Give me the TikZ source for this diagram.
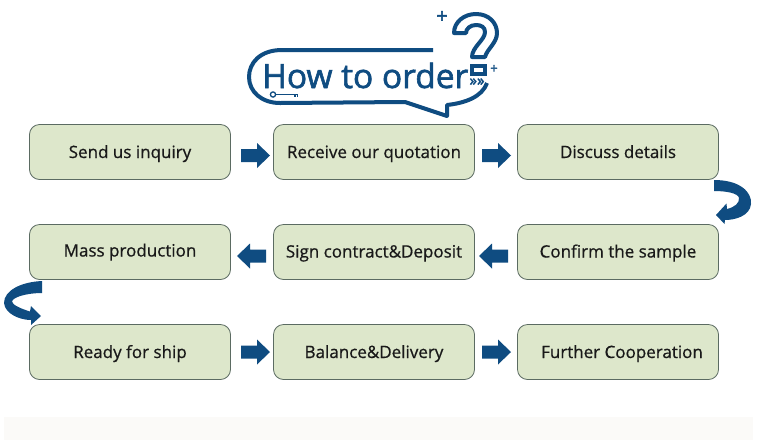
\documentclass[tikz,border=0pt]{standalone}
\usepackage{fontspec}
\setmainfont{Open Sans}
\newfontfamily\labelfont[FakeBold=0.7]{Open Sans}
\newfontfamily\titlefont[FakeBold=1.8]{Open Sans}
\newfontfamily\signfont[FakeBold=2.5]{Open Sans}
\definecolor{boxfill}{HTML}{DDE7CB}
\definecolor{boxline}{HTML}{5B6B62}
\definecolor{navy}{HTML}{0F4C81}
\definecolor{band}{HTML}{FBFAF8}
\tikzset{
 stepbox/.style={draw=boxline,line width=0.8pt,fill=boxfill,rounded corners=10pt,minimum width=201pt,minimum height=55pt,inner sep=0pt,text=black!90,text height=16pt,text depth=4pt,font=\labelfont\fontsize{17}{20}\selectfont},
 blockarrow/.style={fill=navy,draw=none},
 logoline/.style={draw=navy,line width=4pt,line join=round},
 thin logo/.style={draw=navy,line width=1.3pt}
}
\begin{document}
\begin{tikzpicture}[x=1pt,y=-1pt]
\useasboundingbox (0,0) rectangle (767,440);
\fill[white] (0,0) rectangle (767,440);
\fill[band] (4,417) rectangle (753,440);
% boxes
\node[stepbox] (a1) at (130,152) {Send us inquiry};
\node[stepbox] (a2) at (374,152) {Receive our quotation};
\node[stepbox] (a3) at (618,152) {Discuss details};
\node[stepbox] (b1) at (130,252) {\raisebox{1.5pt}{Mass production}};
\node[stepbox] (b2) at (374,252) {\raisebox{0.5pt}{Sign contract\&Deposit}};
\node[stepbox] (b3) at (618,252) {\raisebox{0.5pt}{Confirm the sample}};
\node[stepbox] (c1) at (130,352) {Ready for ship};
\node[stepbox] (c2) at (374,352) {Balance\&Delivery};
\node[stepbox] (c3) at (618,352) {\hspace{8pt}Further Cooperation};
% straight block arrows
\foreach \x/\y in {241/155.5,482/155.5,241/352,482/352}
  \fill[blockarrow] (\x,\y-6.5) -- ++(16,0) -- ++(0,-6) -- (\x+29,\y) -- (\x+16,\y+12.5) -- ++(0,-6) -- (\x,\y+6.5) -- cycle;
\foreach \x/\y in {266/256,508/256}
  \fill[blockarrow] (\x,\y-6.5) -- ++(-16,0) -- ++(0,-6) -- (\x-29,\y) -- (\x-16,\y+12.5) -- ++(0,-6) -- (\x,\y+6.5) -- cycle;
% curved arrows
\fill[blockarrow] (714,180) .. controls (740,180) and (752,192) .. (751,204)
  .. controls (750,216) and (735,220) .. (725,220) -- (724.5,224) -- (716,215) -- (726.5,203.5) -- (727,209)
  .. controls (735,207) and (739.5,203) .. (739,198) .. controls (738,193) and (726,191) .. (714,191) -- cycle;
\fill[blockarrow] (42,281) .. controls (20,282) and (4,291) .. (4,303)
  .. controls (5,314) and (20,320) .. (31,320) -- (31,325) -- (41,316) -- (31,306) -- (30,311.5)
  .. controls (22,309) and (12,305) .. (12,301.5) .. controls (13,297) and (27,293) .. (42,293) -- cycle;
% logo
\draw[logoline] (433,50) -- (282,50) .. controls (260,50) and (249,63) .. (249,77)
  .. controls (249,92) and (262,103) .. (280,103) -- (405,102) -- (447,116) -- (447,105)
  .. controls (465,103) and (482,97) .. (487,83);
\node[text=navy,font=\titlefont\fontsize{33.5}{36}\selectfont,inner sep=0pt,anchor=base west] (title) at (262,88) {How to order};
% question mark
\draw[navy,line width=4pt,line join=round] (454,33) .. controls (454,22) and (464,14) .. (476,14)
  .. controls (489,14) and (497,23) .. (497,33) .. controls (497,43) and (487,49) .. (485,57)
  -- (472,57) .. controls (472,47) and (485,40) .. (485,32) .. controls (485,27) and (481,25) .. (476,25)
  .. controls (470,25) and (466,29) .. (466,33) -- cycle;
\draw[navy,line width=3.4pt] (472,66) rectangle (485,74);
\node[text=navy,font=\signfont\fontsize{15}{15}\selectfont,inner sep=0pt] (chev) at (477,82) {»»};
% plus signs
\node[text=navy,font=\signfont\fontsize{20}{20}\selectfont,inner sep=0pt] (p1) at (442,17) {+};
\node[text=navy,font=\signfont\fontsize{13}{13}\selectfont,inner sep=0pt] (p2) at (494,69) {+};
% key
\draw[thin logo] (273,94.5) circle (2.6);
\draw[thin logo] (275.6,94.5) -- (298,94.5);
\draw[thin logo] (295,94.5) -- (295,97) (297.5,94.5) -- (297.5,97);
\end{tikzpicture}
\end{document}
